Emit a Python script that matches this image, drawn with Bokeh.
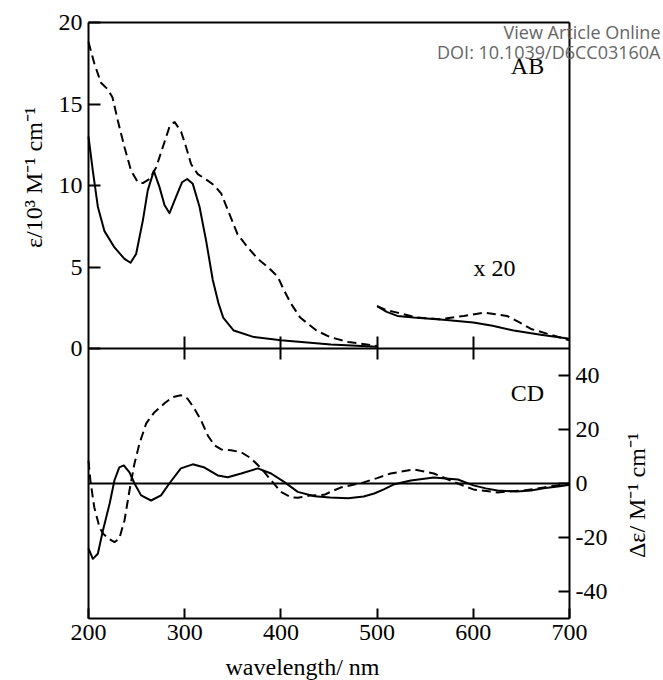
import math
from bokeh.plotting import figure
from bokeh.models import Range1d, LinearAxis, FixedTicker, Label
from bokeh.embed import file_html
from bokeh.resources import INLINE

# ---------------- data ----------------
# Absorption (AB), units 10^3 M^-1 cm^-1
wl_ab_solid = [200, 204.5, 209.7, 216.6, 227, 237.4, 243.7, 249.5, 256.5, 261.6, 267.9,
               273.8, 279, 284.2, 291, 297.3, 302.6, 308.4, 315.4, 322.3, 329.2, 335,
               340, 351, 372, 400, 452, 500]
ab_solid = [13.0, 10.9, 8.7, 7.2, 6.2, 5.5, 5.26, 5.8, 7.85, 9.7, 10.9,
            9.9, 8.8, 8.3, 9.3, 10.2, 10.4, 10.1, 8.7, 6.6, 4.2, 2.8,
            1.9, 1.1, 0.7, 0.5, 0.25, 0.1]

wl_ab_dash = [200, 206, 213, 220, 225, 230.4, 237.4, 244.3, 251.3, 256.5, 263.4, 270.3,
              277.2, 284.2, 289.4, 296.3, 301.5, 306.7, 313.6, 324, 331, 338, 344.8,
              355, 365.6, 376, 386.4, 396.8, 403, 410, 420, 437, 451, 470, 483, 500]
ab_dash = [18.8, 17.5, 16.3, 15.9, 15.4, 14.0, 12.35, 10.9, 10.2, 10.15, 10.4, 11.1,
           12.35, 13.6, 13.9, 13.3, 12.35, 11.3, 10.7, 10.3, 10.0, 9.5, 8.5,
           7.0, 6.2, 5.5, 5.0, 4.4, 3.6, 2.8, 1.9, 1.1, 0.7, 0.4, 0.3, 0.15]

# x 20 magnified part (500-700 nm)
wl_x20_solid = [500, 510, 521, 538, 572, 600, 620, 642, 670, 700]
ab_x20_solid = [2.6, 2.25, 2.0, 1.9, 1.75, 1.6, 1.4, 1.1, 0.85, 0.6]
wl_x20_dash = [500, 510, 521, 541, 565, 590, 611, 635, 648, 660, 680, 700]
ab_x20_dash = [2.6, 2.35, 2.2, 1.9, 1.8, 2.0, 2.2, 2.0, 1.6, 1.2, 0.85, 0.5]

# Circular dichroism (CD), M^-1 cm^-1
wl_cd_solid = [200, 204.5, 209.7, 215, 222, 227, 232, 236.7, 242.6, 247.8, 254.7, 265,
               275.4, 284, 296, 308.4, 320.6, 334.4, 344.8, 358.7, 376, 389.8, 403.7,
               417.5, 435, 451, 470, 486, 497, 507, 517, 535, 559, 584, 600, 613, 625,
               645, 660, 673, 690, 700]
cd_solid = [-24.0, -27.9, -26.0, -17.4, -7.4, 1.2, 6.0, 6.7, 4.1, 0.0, -4.4, -6.3,
            -4.4, 0.0, 5.6, 7.1, 5.9, 3.0, 2.3, 3.7, 5.6, 3.7, 0.5,
            -3.1, -4.7, -5.2, -5.5, -4.8, -3.7, -2.2, -0.4, 1.1, 2.2, 1.5, -0.7, -1.8, -2.6,
            -3.0, -2.6, -1.8, -1.0, -0.5]

wl_cd_dash = [200, 202, 206, 211.4, 215, 221, 227, 232, 237.4, 242.6, 247.8, 253, 260,
              268.6, 279, 287.6, 296, 303, 310, 317, 324, 331, 338, 348, 358.7, 369,
              379.5, 389.8, 400, 410.7, 417.5, 431.4, 445, 451, 462, 486, 500, 514, 538,
              559, 584, 600, 625, 652, 673, 700]
cd_dash = [8.5, 1.0, -8.8, -16.2, -18.5, -20.5, -21.7, -20.4, -13.7, -2.6, 7.4, 14.8, 22.3,
           26.4, 29.7, 32.0, 32.7, 31.4, 27.8, 23.4, 17.8, 14.1, 12.6, 12.3, 11.6, 9.3,
           5.6, 1.2, -3.1, -5.1, -5.3, -4.4, -4.2, -3.2, -1.5, 0.4, 2.0, 3.7, 5.2,
           3.7, 0.0, -2.2, -3.3, -2.6, -1.5, 0.0]

wl_ticks = [200, 300, 400, 500, 600, 700]
ab_ticks = [0, 5, 10, 15, 20]
cd_ticks = [-40, -20, 0, 20, 40]

# ---------------- layout (canvas pixels) ----------------
W, H = 663, 680
FL, FR = 88, 569          # left / right edge of the plot box
FT, FM, FB = 22, 348, 618  # top, AB/CD separator, bottom of the plot box
WL0, WL1 = 200, 700
AB_TOP = 20
CD_HALF = 50

sx = (FR - FL) / (WL1 - WL0)
s_ab = (FM - FT) / AB_TOP
s_cd = (FB - FM) / (2 * CD_HALF)
CD0 = (FM + FB) / 2  # pixel of CD zero


def xd(px):
    return WL0 + (px - FL) / sx


def yab(py):
    return (FM - py) / s_ab


def ycd(py):
    return (CD0 - py) / s_cd


SERIF = "Liberation Serif"

p = figure(width=W, height=H, output_backend="svg", toolbar_location=None,
           x_range=Range1d(xd(0), xd(W)), y_range=Range1d(yab(H), yab(0)),
           min_border=0, min_border_left=0, min_border_right=0,
           min_border_top=0, min_border_bottom=0)
p.extra_y_ranges = {"cd": Range1d(ycd(H), ycd(0))}
p.xgrid.visible = False
p.ygrid.visible = False
p.outline_line_color = None
p.background_fill_color = "white"
p.border_fill_color = "white"

AB_BOUNDS = (yab(FB), AB_TOP)
CD_BOUNDS = (ycd(FB), ycd(FT))


def style_axis(ax, ticks, tick_in, tick_out=0, labels=True):
    ax.ticker = FixedTicker(ticks=ticks)
    ax.major_tick_in = tick_in
    ax.major_tick_out = tick_out
    ax.minor_tick_in = 0
    ax.minor_tick_out = 0
    ax.axis_line_width = 2
    ax.axis_line_color = "black"
    ax.major_tick_line_width = 2
    ax.major_tick_line_color = "black"
    ax.major_label_text_font = SERIF
    ax.major_label_text_font_size = "24px"
    ax.major_label_text_color = "black"
    ax.major_label_standoff = 6
    if labels:
        ax.major_label_overrides = {t: str(t) for t in ticks}
    else:
        ax.major_label_overrides = {t: "" for t in ticks}


# bottom wavelength axis
bx = p.xaxis[0]
style_axis(bx, wl_ticks, 10)
bx.fixed_location = yab(FB)
bx.bounds = (WL0, WL1)

# left AB axis
ly = p.yaxis[0]
style_axis(ly, ab_ticks, 12)
ly.fixed_location = WL0
ly.bounds = AB_BOUNDS

# right CD axis
ry = LinearAxis(y_range_name="cd")
style_axis(ry, cd_ticks, 11)
ry.fixed_location = WL1
ry.bounds = CD_BOUNDS
p.add_layout(ry, "right")

# top border of the box
tx = LinearAxis()
style_axis(tx, [], 0, labels=False)
tx.fixed_location = AB_TOP
tx.bounds = (WL0, WL1)
p.add_layout(tx, "above")

# AB / CD separator with crossing ticks
mx = LinearAxis()
style_axis(mx, wl_ticks[1:-1], 12, 11, labels=False)
mx.fixed_location = 0
mx.bounds = (WL0, WL1)
p.add_layout(mx, "below")

# CD zero line
zx = LinearAxis(y_range_name="cd")
style_axis(zx, [], 0, labels=False)
zx.fixed_location = 0
zx.bounds = (WL0, WL1)
p.add_layout(zx, "below")

# curves
LW = 2
DASH = "9 5"
p.line(wl_ab_solid, ab_solid, line_color="black", line_width=LW, line_join="round")
p.line(wl_ab_dash, ab_dash, line_color="black", line_width=LW, line_dash=DASH)
p.line(wl_x20_solid, ab_x20_solid, line_color="black", line_width=LW, line_join="round")
p.line(wl_x20_dash, ab_x20_dash, line_color="black", line_width=LW, line_dash=DASH)
p.line(wl_cd_solid, cd_solid, y_range_name="cd", line_color="black", line_width=LW,
       line_join="round")
p.line(wl_cd_dash, cd_dash, y_range_name="cd", line_color="black", line_width=LW,
       line_dash=DASH)


# texts
def lab(**kw):
    base = dict(text_font=SERIF, text_font_size="24px", text_color="black",
                text_align="center", text_baseline="middle")
    base.update(kw)
    p.add_layout(Label(**base))


lab(x=xd(33), y=yab(177), text="ε/10³ M⁻¹ cm⁻¹", angle=math.pi / 2)
lab(x=xd(636), y=ycd(495), y_range_name="cd", text="Δε/ M⁻¹ cm⁻¹", angle=math.pi / 2)
lab(x=xd(302), y=yab(666), text="wavelength/ nm")
lab(x=xd(527), y=yab(65), text="AB")
lab(x=xd(494), y=yab(267), text="x 20")
lab(x=xd(527), y=yab(392), text="CD")

lab(x=xd(660), y=yab(31), text="View Article Online", text_align="right",
    text_font="Open Sans", text_font_size="18px", text_color="#666666")
lab(x=xd(660), y=yab(51), text="DOI: 10.1039/D6CC03160A", text_align="right",
    text_font="Open Sans", text_font_size="18px", text_color="#666666")

open("out.html", "w").write(file_html(p, INLINE))
